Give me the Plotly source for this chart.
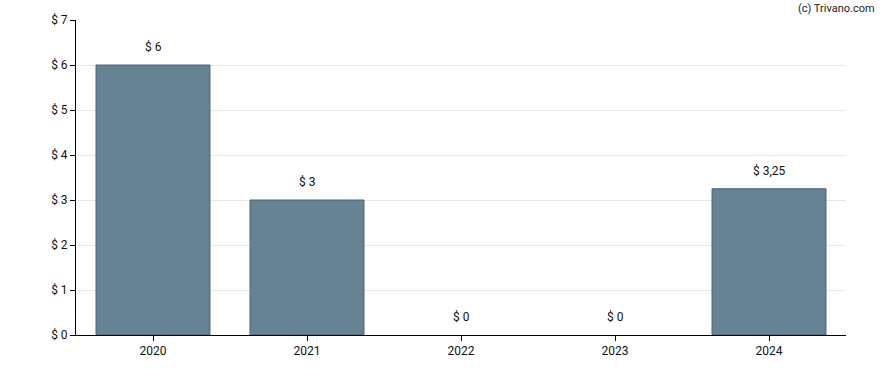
import plotly.graph_objects as go

years = ["2020", "2021", "2022", "2023", "2024"]
dividends = [6, 3, 0, 0, 3.25]
y_ticks = [0, 1, 2, 3, 4, 5, 6, 7]

def fmt(v):
    s = ("%g" % v).replace(".", ",")
    return "$ " + s

fig = go.Figure()
fig.add_trace(go.Bar(
    x=years, y=dividends,
    marker=dict(color="#668394",
                line=dict(color="#4a6478", width=[1 if v > 0 else 0 for v in dividends])),
    width=0.74,
    hoverinfo="skip",
))

for i, yv in enumerate(dividends):
    fig.add_annotation(x=i, y=yv, text=fmt(yv), showarrow=False,
                       yanchor="bottom", yshift=9,
                       font=dict(family="Roboto, Arial, sans-serif", size=12, color="#111111"))

fig.add_annotation(xref="paper", yref="paper", x=1.04, y=1.0, xanchor="right", yanchor="middle",
                   yshift=12,
                   text="(c) Trivano.com", showarrow=False,
                   font=dict(family="Roboto, Arial, sans-serif", size=11, color="#222222"))

fig.update_layout(
    width=888, height=370,
    margin=dict(l=76, r=42, t=20, b=35, autoexpand=False),
    plot_bgcolor="white", paper_bgcolor="white",
    separators=",.",
    showlegend=False,
    font=dict(family="Roboto, Arial, sans-serif", size=12, color="#111111"),
    xaxis=dict(type="category", range=[-0.5, len(years) - 0.5], automargin=False,
               showline=True, linecolor="black", linewidth=1, ticks="outside", ticklen=5,
               tickcolor="black", showgrid=False),
    yaxis=dict(range=[0, 7], tickvals=y_ticks, ticktext=["$ %d" % t for t in y_ticks],
               automargin=False,
               showline=True, linecolor="black", linewidth=1, ticks="outside", ticklen=5,
               tickcolor="black", showgrid=True, gridcolor="#e8e8e8", zeroline=False),
)

fig.write_html("out.html", config={"displayModeBar": False},
               post_script="document.body.style.margin='0';document.body.style.overflow='hidden';")
